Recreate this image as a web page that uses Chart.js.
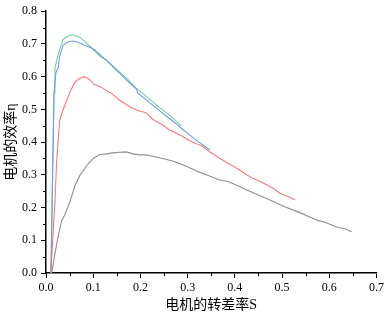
<!DOCTYPE html>
<html>
<head>
<meta charset="utf-8">
<script src="https://cdn.jsdelivr.net/npm/chart.js@4"></script>
<style>
  html, body { margin: 0; padding: 0; background: #fff; }
  #wrap { width: 387px; height: 314px; }
</style>
</head>
<body>
<div id="wrap"><canvas id="effChart" width="387" height="314"></canvas></div>
<script>
// slip S and efficiency for the four curves
const graySlip = [0.012, 0.019, 0.026, 0.033, 0.040, 0.051, 0.061, 0.072, 0.089, 0.100, 0.114, 0.128, 0.142, 0.156, 0.170, 0.184, 0.198, 0.212, 0.226, 0.247, 0.268, 0.282, 0.296, 0.310, 0.324, 0.345, 0.366, 0.387, 0.405, 0.423, 0.450, 0.479, 0.507, 0.535, 0.560, 0.577, 0.591, 0.605, 0.619, 0.632, 0.647];
const grayEff  = [0.000, 0.059, 0.114, 0.159, 0.179, 0.219, 0.265, 0.299, 0.333, 0.350, 0.362, 0.364, 0.367, 0.369, 0.370, 0.364, 0.361, 0.361, 0.357, 0.350, 0.342, 0.335, 0.327, 0.318, 0.309, 0.297, 0.285, 0.279, 0.267, 0.255, 0.238, 0.220, 0.202, 0.186, 0.170, 0.160, 0.155, 0.147, 0.139, 0.136, 0.126];

const redSlip = [0.010, 0.015, 0.019, 0.0225, 0.029, 0.036, 0.044, 0.051, 0.061, 0.072, 0.082, 0.093, 0.103, 0.114, 0.128, 0.142, 0.156, 0.170, 0.184, 0.198, 0.212, 0.226, 0.247, 0.261, 0.275, 0.289, 0.303, 0.317, 0.331, 0.349, 0.366, 0.380, 0.401, 0.420, 0.437, 0.460, 0.482, 0.496, 0.512, 0.528];
const redEff  = [0.000, 0.120, 0.219, 0.339, 0.468, 0.498, 0.528, 0.553, 0.583, 0.595, 0.600, 0.590, 0.575, 0.570, 0.558, 0.545, 0.528, 0.515, 0.503, 0.495, 0.490, 0.470, 0.452, 0.438, 0.428, 0.418, 0.405, 0.396, 0.388, 0.368, 0.352, 0.340, 0.323, 0.305, 0.290, 0.275, 0.258, 0.243, 0.234, 0.224];

const blueSlip = [0.0105, 0.014, 0.017, 0.021, 0.026, 0.029, 0.036, 0.044, 0.051, 0.061, 0.072, 0.082, 0.093, 0.103, 0.114, 0.128, 0.142, 0.156, 0.170, 0.187, 0.192, 0.194, 0.210, 0.226, 0.243, 0.261, 0.275, 0.286, 0.303, 0.324, 0.347];
const blueEff  = [0.000, 0.300, 0.550, 0.612, 0.628, 0.663, 0.696, 0.704, 0.708, 0.708, 0.703, 0.696, 0.690, 0.682, 0.668, 0.650, 0.630, 0.610, 0.590, 0.568, 0.562, 0.550, 0.532, 0.513, 0.493, 0.473, 0.457, 0.443, 0.423, 0.400, 0.376];

const greenSlip = [0.0105, 0.014, 0.017, 0.019, 0.026, 0.036, 0.044, 0.054, 0.063, 0.072, 0.082, 0.093, 0.103, 0.114, 0.128, 0.142, 0.156, 0.170, 0.191, 0.210, 0.226, 0.243, 0.261, 0.275, 0.286];
const greenEff  = [0.000, 0.300, 0.550, 0.628, 0.668, 0.713, 0.722, 0.728, 0.726, 0.720, 0.708, 0.693, 0.678, 0.663, 0.650, 0.632, 0.614, 0.596, 0.565, 0.543, 0.523, 0.503, 0.483, 0.465, 0.450];

const xTicks = [0, 0.1, 0.2, 0.3, 0.4, 0.5, 0.6, 0.7];
const yTicks = [0, 0.1, 0.2, 0.3, 0.4, 0.5, 0.6, 0.7, 0.8];

function pairs(xs, ys) {
    return xs.map((x, i) => ({ x: x, y: ys[i] }));
}

function line(data, color) {
    return {
        data: data,
        borderColor: color,
        borderWidth: 1.1,
        showLine: true,
        pointRadius: 0,
        tension: 0,
        fill: false
    };
}

const serif = "'Liberation Serif', 'Times New Roman', 'Noto Sans CJK SC', serif";

// minor ticks halfway between the labelled ones
const minorTicks = {
    id: 'minorTicks',
    afterDraw(chart) {
        const ctx = chart.ctx;
        const xs = chart.scales.x;
        const ys = chart.scales.y;
        ctx.save();
        ctx.strokeStyle = '#000';
        ctx.lineWidth = 1;
        ctx.beginPath();
        for (let i = 0; i < xTicks.length - 1; i++) {
            const px = Math.round(xs.getPixelForValue((xTicks[i] + xTicks[i + 1]) / 2)) + 0.5;
            ctx.moveTo(px, xs.top);
            ctx.lineTo(px, xs.top + 3);
        }
        for (let i = 0; i < yTicks.length - 1; i++) {
            const py = Math.round(ys.getPixelForValue((yTicks[i] + yTicks[i + 1]) / 2)) + 0.5;
            ctx.moveTo(ys.right, py);
            ctx.lineTo(ys.right - 3, py);
        }
        ctx.stroke();
        ctx.restore();
    }
};

const ctx = document.getElementById('effChart').getContext('2d');
new Chart(ctx, {
    type: 'scatter',
    data: {
        datasets: [
            line(pairs(graySlip, grayEff), '#8f8f8f'),
            line(pairs(redSlip, redEff), '#f37b7b'),
            line(pairs(blueSlip, blueEff), '#6b9ceb'),
            line(pairs(greenSlip, greenEff), '#78cc98')
        ]
    },
    options: {
        responsive: false,
        animation: false,
        layout: { padding: { top: 6, right: 8, left: 0, bottom: 0 } },
        plugins: {
            legend: { display: false },
            tooltip: { enabled: false }
        },
        scales: {
            x: {
                type: 'linear',
                min: 0,
                max: 0.7,
                afterBuildTicks: scale => { scale.ticks = xTicks.map(v => ({ value: v })); },
                afterFit: scale => { scale.height = 41; },
                ticks: {
                    color: '#000',
                    padding: 3,
                    maxRotation: 0,
                    font: { family: serif, size: 12 },
                    callback: v => v.toFixed(1)
                },
                grid: {
                    drawOnChartArea: false,
                    tickLength: 5,
                    tickColor: '#000'
                },
                border: { color: '#000', width: 1.5 },
                title: {
                    display: true,
                    text: '电机的转差率S',
                    color: '#000',
                    font: { family: serif, size: 14 },
                    padding: { top: 0, bottom: 0 }
                }
            },
            y: {
                type: 'linear',
                min: 0,
                max: 0.8,
                afterBuildTicks: scale => { scale.ticks = yTicks.map(v => ({ value: v })); },
                afterFit: scale => { scale.width = 46; },
                ticks: {
                    color: '#000',
                    padding: 4,
                    font: { family: serif, size: 12 },
                    callback: v => v.toFixed(1)
                },
                grid: {
                    drawOnChartArea: false,
                    tickLength: 5,
                    tickColor: '#000'
                },
                border: { color: '#000', width: 1.5 },
                title: {
                    display: true,
                    text: '电机的效率η',
                    color: '#000',
                    font: { family: serif, size: 14 },
                    padding: { top: 3, bottom: 0 }
                }
            }
        }
    },
    plugins: [minorTicks]
});
</script>
</body>
</html>
